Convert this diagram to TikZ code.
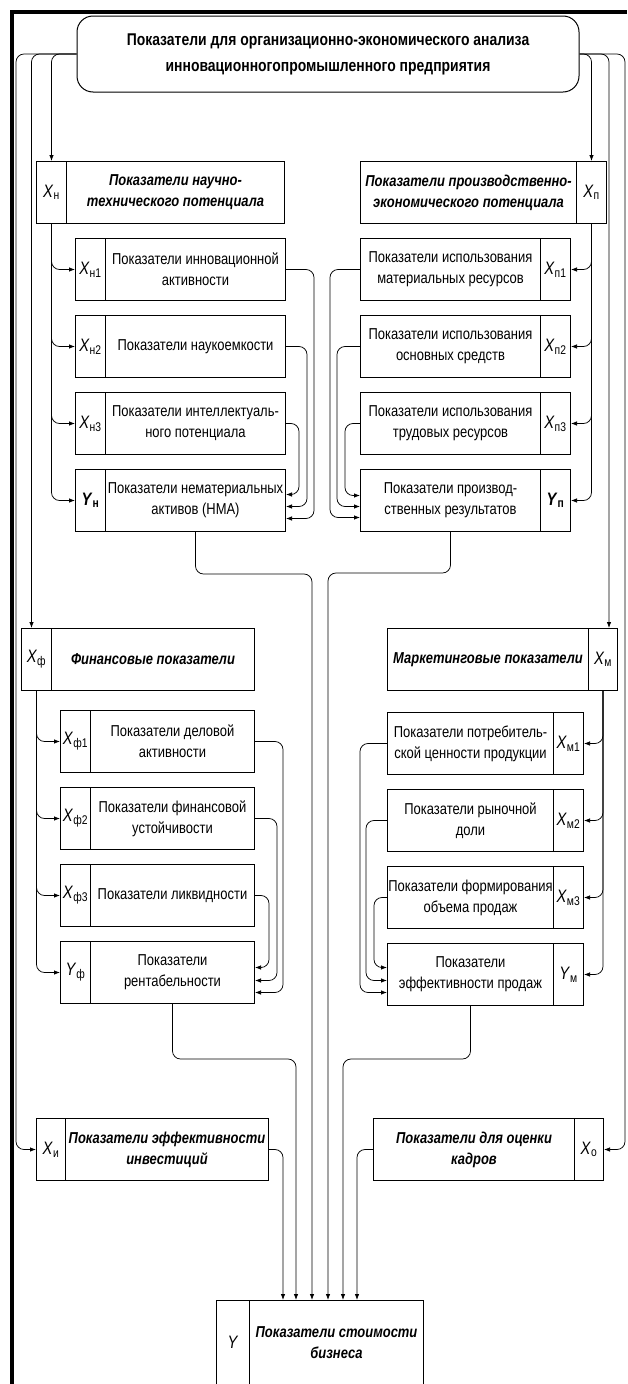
\documentclass[tikz,border=0pt]{standalone}
\usepackage{fontspec}
\setmainfont{Liberation Sans}[FakeStretch=0.82]
\usetikzlibrary{arrows.meta}

% box at north-west corner (x,y) with width w and height h
\newcommand\bx[7]{\node[#6, minimum width=#4pt, minimum height=#5pt, anchor=north west] (#1) at (#2,#3) {#7};}
\newcommand\lx[2]{\textit{#1}\textsubscript{#2}}

\tikzset{
  frame/.style={line width=3.8pt},
  hdr/.style={draw, line width=1pt, rounded corners=16pt, minimum width=502pt, minimum height=76pt,
    align=center, font=\fontsize{17}{26}\selectfont\bfseries},
  lab/.style={draw, line width=1pt, inner sep=0pt, align=center, font=\fontsize{18}{20}\selectfont},
  txt/.style={draw, line width=1pt, inner sep=0pt, align=center, font=\fontsize{15.8}{21}\selectfont},
  htxt/.style={draw, line width=1pt, inner sep=0pt, align=center, font=\fontsize{15.8}{21}\selectfont\bfseries\itshape},
  conn/.style={line width=0.75pt, rounded corners=8pt},
  arr/.style={conn, -{Latex[length=6pt,width=4.5pt]}},
}

\begin{document}
\begin{tikzpicture}[x=1pt,y=-1pt]
\useasboundingbox (0,0) rectangle (627,1384);

% outer frame (top and left edges)
\draw[frame] (12,1384) -- (12,11.6) -- (627,11.6);

% title
\node[hdr] (hdr) at (328,54) {Показатели для организационно-экономического анализа\\инновационногопромышленного предприятия};

% scientific and technical potential
\bx{nL}{36}{161}{30}{62}{lab}{\lx{X}{н}}
\bx{nT}{66}{161}{218}{62}{htxt}{Показатели научно-\\технического потенциала}
\bx{n1L}{75}{238}{30}{62}{lab}{\lx{X}{н1}}
\bx{n1T}{105}{238}{180}{62}{txt}{Показатели инновационной\\активности}
\bx{n2L}{75}{315}{30}{62}{lab}{\lx{X}{н2}}
\bx{n2T}{105}{315}{180}{62}{txt}{Показатели наукоемкости}
\bx{n3L}{75}{392}{30}{62}{lab}{\lx{X}{н3}}
\bx{n3T}{105}{392}{180}{62}{txt}{Показатели интеллектуаль-\\ного потенциала}
\bx{nyL}{75}{469}{30}{62}{lab}{\textbf{\lx{Y}{н}}}
\bx{nyT}{105}{469}{180}{62}{txt}{Показатели нематериальных\\активов (НМА)}

% production and economic potential
\bx{pT}{360}{161}{216}{62}{htxt}{Показатели производственно-\\экономического потенциала}
\bx{pL}{576}{161}{30}{62}{lab}{\lx{X}{п}}
\bx{p1T}{360}{238}{180}{62}{txt}{Показатели использования\\материальных ресурсов}
\bx{p1L}{540}{238}{30}{62}{lab}{\lx{X}{п1}}
\bx{p2T}{360}{315}{180}{62}{txt}{Показатели использования\\основных средств}
\bx{p2L}{540}{315}{30}{62}{lab}{\lx{X}{п2}}
\bx{p3T}{360}{392}{180}{62}{txt}{Показатели использования\\трудовых ресурсов}
\bx{p3L}{540}{392}{30}{62}{lab}{\lx{X}{п3}}
\bx{pyT}{360}{469}{180}{62}{txt}{Показатели производ-\\ственных результатов}
\bx{pyL}{540}{469}{30}{62}{lab}{\textbf{\lx{Y}{п}}}

% financial indicators
\bx{fL}{21}{628}{30}{62}{lab}{\lx{X}{ф}}
\bx{fT}{51}{628}{203}{62}{htxt}{Финансовые показатели}
\bx{f1L}{60}{710}{30}{62}{lab}{\lx{X}{ф1}}
\bx{f1T}{90}{710}{164}{62}{txt}{Показатели деловой\\активности}
\bx{f2L}{60}{787}{30}{62}{lab}{\lx{X}{ф2}}
\bx{f2T}{90}{787}{164}{62}{txt}{Показатели финансовой\\устойчивости}
\bx{f3L}{60}{864}{30}{62}{lab}{\lx{X}{ф3}}
\bx{f3T}{90}{864}{164}{62}{txt}{Показатели ликвидности}
\bx{fyL}{60}{941}{30}{62}{lab}{\lx{Y}{ф}}
\bx{fyT}{90}{941}{164}{62}{txt}{Показатели\\рентабельности}

% marketing indicators
\bx{mT}{387}{628}{201}{62}{htxt}{Маркетинговые показатели}
\bx{mL}{588}{628}{29}{62}{lab}{\lx{X}{м}}
\bx{m1T}{387}{712}{166}{62}{txt}{Показатели потребитель-\\ской ценности продукции}
\bx{m1L}{553}{712}{30}{62}{lab}{\lx{X}{м1}}
\bx{m2T}{387}{789}{166}{62}{txt}{Показатели рыночной\\доли}
\bx{m2L}{553}{789}{30}{62}{lab}{\lx{X}{м2}}
\bx{m3T}{387}{866}{166}{62}{txt}{Показатели формирования\\объема продаж}
\bx{m3L}{553}{866}{30}{62}{lab}{\lx{X}{м3}}
\bx{myT}{387}{943}{166}{62}{txt}{Показатели\\эффективности продаж}
\bx{myL}{553}{943}{30}{62}{lab}{\lx{Y}{м}}

% investments and personnel
\bx{xiL}{36}{1118}{29}{62}{lab}{\lx{X}{и}}
\bx{xiT}{65}{1118}{203}{62}{htxt}{Показатели эффективности\\инвестиций}
\bx{oT}{373}{1118}{201}{62}{htxt}{Показатели для оценки\\кадров}
\bx{oL}{574}{1118}{29}{62}{lab}{\lx{X}{о}}

% business value
\bx{yL}{216}{1300}{33}{84}{lab}{\textit{Y}}
\bx{yT}{249}{1300}{174}{84}{htxt}{Показатели стоимости\\бизнеса}

% from the title to the groups
\draw[arr] (hdr.west) -| ([xshift=-20pt]xiL.west) -- (xiL.west);
\draw[arr] (hdr.west) -| ([xshift=-5pt]fL.north);
\draw[arr] (hdr.west) -| (nL.north);
\draw[arr] (hdr.east) -| (pL.north);
\draw[arr] (hdr.east) -| ([xshift=6pt]mL.north);
\draw[arr] (hdr.east) -| ([xshift=21pt]oL.east) -- (oL.east);

% scientific block
\foreach \k in {n1L,n2L,n3L,nyL} \draw[arr] (nL.south) |- (\k.west);
\draw[arr] (n1T.east) -- ++(28,0) |- ([yshift=-18pt]nyT.east);
\draw[arr] (n2T.east) -- ++(21,0) |- ([yshift=-6pt]nyT.east);
\draw[arr] (n3T.east) -- ++(13,0) |- ([yshift=6pt]nyT.east);

% production block
\foreach \k in {p1L,p2L,p3L,pyL} \draw[arr] (pL.south) |- (\k.east);
\draw[arr] (p1T.west) -- ++(-30,0) |- ([yshift=-17pt]pyT.west);
\draw[arr] (p2T.west) -- ++(-23,0) |- ([yshift=-6pt]pyT.west);
\draw[arr] (p3T.west) -- ++(-15,0) |- ([yshift=5pt]pyT.west);

% financial block
\foreach \k in {f1L,f2L,f3L,fyL} \draw[arr] (fL.south) |- (\k.west);
\draw[arr] (f1T.east) -- ++(28,0) |- ([yshift=-20pt]fyT.east);
\draw[arr] (f2T.east) -- ++(22,0) |- ([yshift=-8pt]fyT.east);
\draw[arr] (f3T.east) -- ++(14,0) |- ([yshift=5pt]fyT.east);

% marketing block
\foreach \k in {m1L,m2L,m3L,myL} \draw[arr] (mL.south) |- (\k.east);
\draw[arr] (m1T.west) -- ++(-27,0) |- ([yshift=-18pt]myT.west);
\draw[arr] (m2T.west) -- ++(-21,0) |- ([yshift=-6pt]myT.west);
\draw[arr] (m3T.west) -- ++(-13,0) |- ([yshift=7pt]myT.west);

% into the business value box
\draw[arr] (xiT.east) -| ([xshift=34pt]yT.north west);
\draw[arr] (fyT.south) -- ++(0,55) -| ([xshift=47pt]yT.north west);
\draw[arr] (nyT.south) -- ++(0,42) -| ([xshift=63pt]yT.north west);
\draw[arr] (pyT.south) -- ++(0,41) -| ([xshift=79pt]yT.north west);
\draw[arr] (myT.south) -- ++(0,53) -| ([xshift=94pt]yT.north west);
\draw[arr] (oT.west) -| ([xshift=108pt]yT.north west);
\end{tikzpicture}
\end{document}
